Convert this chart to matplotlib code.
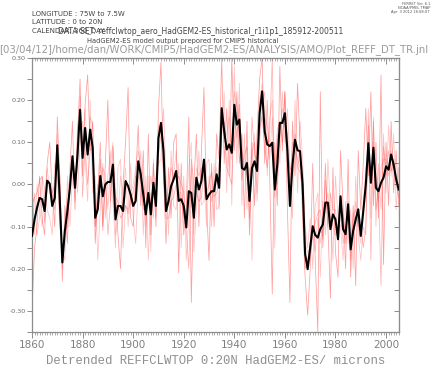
import matplotlib
matplotlib.use('Agg')
import matplotlib.pyplot as plt
from matplotlib.ticker import MultipleLocator, FuncFormatter, FixedLocator
import numpy as np

years = list(range(1860, 2006))

ensemble_mean = [
    -0.122, -0.083, -0.055, -0.032, -0.035, -0.063, 0.009, 0.002, -0.051, -0.032,
    0.093, -0.039, -0.185, -0.110, -0.063, -0.008, 0.067, -0.008, 0.071, 0.177,
    0.063, 0.134, 0.071, 0.130, 0.087, -0.079, -0.059, 0.020, -0.028, 0.000,
    0.006, 0.006, 0.047, -0.083, -0.051, -0.051, -0.063, 0.008, -0.004, -0.024,
    -0.051, -0.039, 0.055, 0.024, -0.024, -0.071, -0.020, -0.071, 0.004, -0.051,
    0.110, 0.146, 0.079, -0.063, -0.039, -0.004, 0.012, 0.032, -0.039, -0.035,
    -0.051, -0.102, -0.016, -0.020, -0.079, 0.016, -0.012, 0.008, 0.059, -0.035,
    -0.024, -0.016, -0.016, 0.024, -0.008, 0.181, 0.126, 0.083, 0.095, 0.075,
    0.189, 0.142, 0.154, 0.039, 0.035, 0.051, -0.039, 0.039, 0.055, 0.032,
    0.169, 0.221, 0.126, 0.095, 0.091, 0.099, -0.012, 0.047, 0.146, 0.146,
    0.169, 0.079, -0.051, 0.047, 0.106, 0.081, 0.079, 0.000, -0.165, -0.201,
    -0.150, -0.099, -0.120, -0.126, -0.106, -0.095, -0.043, -0.043, -0.106, -0.071,
    -0.083, -0.130, -0.028, -0.106, -0.118, -0.047, -0.154, -0.110, -0.083, -0.059,
    -0.122, -0.063, 0.000, 0.098, 0.004, 0.087, -0.008, -0.016, 0.004, 0.016,
    0.043, 0.035, 0.071, 0.047, 0.012, -0.012,
]

member_a = [
    -0.30, -0.15, -0.10, 0.02, -0.08, -0.12, 0.05, 0.10, -0.02, -0.10,
    0.16, 0.02, -0.23, -0.05, -0.14, 0.04, 0.15, -0.06, 0.12, 0.25,
    0.02, 0.19, 0.26, 0.08, 0.15, -0.14, -0.02, 0.10, -0.10, 0.05,
    0.20, -0.04, 0.09, -0.02, -0.12, -0.20, 0.00, 0.10, 0.23, -0.08,
    -0.10, 0.02, 0.14, -0.05, 0.08, -0.15, 0.12, -0.12, 0.05, -0.10,
    0.18, 0.29, 0.02, -0.14, 0.04, -0.08, 0.10, 0.12, -0.21, 0.05,
    -0.12, -0.05, 0.16, -0.28, 0.00, 0.12, -0.10, 0.08, 0.23, -0.05,
    -0.18, 0.05, -0.10, 0.12, 0.06, 0.30, 0.05, 0.18, 0.02, 0.30,
    0.08, 0.22, 0.05, 0.12, -0.08, 0.15, -0.12, 0.10, -0.05, 0.12,
    0.25, 0.30, 0.05, 0.20, 0.02, -0.26, 0.10, -0.05, 0.28, 0.08,
    0.22, -0.06, -0.28, 0.15, 0.02, 0.24, 0.10, -0.08, -0.22, -0.31,
    -0.20, 0.05, -0.18, -0.35, 0.22, -0.15, 0.05, -0.10, -0.27, 0.04,
    -0.16, -0.22, 0.08, -0.05, -0.20, 0.06, -0.22, -0.05, -0.24, 0.08,
    -0.06, 0.05, 0.18, 0.02, 0.22, -0.05, 0.10, -0.08, 0.26, -0.19,
    0.10, -0.05, 0.15, -0.02, 0.08, -0.05,
]

member_b = [
    -0.15, -0.02, -0.12, -0.08, 0.02, -0.01, -0.06, -0.08, -0.12, 0.05,
    0.02, -0.10, -0.15, -0.18, 0.02, -0.10, 0.02, 0.04, -0.02, 0.10,
    0.15, 0.06, -0.04, 0.20, -0.02, 0.02, -0.18, -0.06, 0.05, -0.08,
    0.02, 0.08, -0.04, -0.15, 0.04, 0.06, -0.15, -0.05, -0.06, 0.05,
    -0.08, -0.14, 0.00, 0.08, -0.12, 0.02, -0.18, -0.02, -0.08, 0.02,
    0.05, 0.06, 0.18, 0.02, -0.12, 0.08, -0.05, -0.06, 0.05, -0.15,
    0.02, -0.18, -0.08, 0.04, -0.16, -0.06, 0.08, -0.05, -0.04, 0.05,
    0.06, -0.10, 0.05, -0.06, -0.05, 0.12, 0.22, -0.02, 0.20, -0.05,
    0.28, 0.05, 0.24, -0.05, 0.12, -0.06, 0.04, -0.18, 0.12, -0.04,
    0.10, 0.18, 0.22, 0.02, 0.16, 0.20, -0.15, 0.12, 0.05, 0.22,
    0.10, 0.18, 0.04, -0.08, 0.20, -0.02, 0.15, 0.06, -0.10, -0.15,
    -0.08, -0.20, -0.05, -0.02, -0.22, -0.04, -0.12, 0.06, -0.05, -0.18,
    0.02, -0.08, -0.10, -0.18, -0.04, -0.14, -0.06, -0.20, 0.02, -0.12,
    -0.18, -0.10, -0.12, 0.18, -0.08, 0.16, -0.10, 0.05, -0.06, 0.12,
    -0.02, 0.14, 0.02, 0.12, -0.06, 0.04,
]

member_c = [
    0.02, -0.12, 0.00, -0.06, -0.10, -0.02, 0.04, -0.02, -0.04, -0.06,
    0.12, -0.06, -0.20, -0.10, -0.02, 0.02, 0.06, -0.04, 0.14, 0.16,
    0.10, 0.18, 0.06, 0.16, 0.14, -0.10, 0.00, -0.02, 0.04, 0.02,
    -0.06, 0.05, 0.10, -0.12, -0.08, 0.02, -0.02, 0.04, -0.10, -0.02,
    0.00, 0.04, 0.08, 0.04, 0.02, -0.10, 0.02, -0.16, 0.06, -0.08,
    0.14, 0.12, 0.10, -0.04, 0.00, 0.04, 0.02, 0.08, -0.02, -0.02,
    -0.08, -0.06, 0.04, 0.10, -0.12, 0.04, 0.02, 0.04, 0.02, -0.10,
    0.02, -0.04, 0.00, 0.04, -0.06, 0.16, 0.10, 0.12, 0.16, 0.06,
    0.22, 0.18, 0.12, 0.08, 0.05, 0.02, 0.00, 0.08, 0.10, -0.02,
    0.20, 0.24, 0.16, 0.14, 0.06, 0.16, 0.04, 0.00, 0.12, 0.18,
    0.14, 0.12, 0.00, 0.10, 0.08, 0.06, 0.04, 0.04, -0.14, -0.16,
    -0.18, -0.12, -0.16, -0.08, -0.14, -0.08, -0.06, -0.02, -0.08, -0.10,
    -0.12, -0.10, -0.06, -0.14, -0.10, -0.08, -0.14, -0.12, -0.04, -0.10,
    -0.14, -0.04, 0.04, 0.06, 0.04, 0.10, 0.02, -0.04, 0.04, 0.06,
    0.06, 0.02, 0.08, 0.04, 0.02, 0.00,
]

member_d = [
    -0.05, -0.03, -0.02, 0.01, 0.02, -0.09, 0.01, 0.00, -0.02, 0.00,
    0.07, 0.02, -0.18, -0.11, -0.10, 0.00, 0.05, 0.02, 0.04, 0.21,
    -0.03, 0.09, 0.00, 0.08, 0.09, -0.10, -0.04, 0.06, -0.11, 0.01,
    -0.12, -0.05, 0.05, -0.03, -0.04, -0.08, -0.07, -0.05, -0.07, -0.03,
    -0.02, 0.02, 0.02, 0.01, -0.06, -0.05, -0.04, 0.02, -0.03, -0.04,
    0.07, 0.12, 0.02, -0.08, -0.08, -0.04, -0.03, 0.00, 0.02, 0.00,
    -0.02, -0.11, -0.20, 0.06, 0.00, -0.02, -0.04, -0.03, 0.03, -0.02,
    0.00, 0.03, -0.03, -0.02, 0.01, 0.14, 0.15, 0.04, 0.02, 0.00,
    0.18, 0.11, 0.19, 0.01, 0.07, 0.09, -0.08, 0.16, 0.07, 0.06,
    0.13, 0.16, 0.09, 0.04, 0.12, 0.30, -0.03, 0.13, 0.15, 0.10,
    0.22, 0.08, 0.04, 0.03, 0.12, 0.04, 0.03, -0.02, -0.20, -0.18,
    -0.14, -0.12, -0.09, -0.07, -0.06, -0.13, 0.01, -0.10, -0.02, -0.06,
    -0.06, -0.12, -0.04, -0.07, -0.14, -0.04, -0.18, -0.07, -0.06, -0.10,
    -0.10, -0.15, -0.10, 0.14, -0.18, 0.15, -0.06, -0.01, -0.24, 0.09,
    0.02, 0.08, 0.03, 0.06, 0.00, -0.03,
]

members = [member_a, member_b, member_c, member_d]
member_alpha = [0.38, 0.24, 0.22, 0.3]

x_tick_years = [1860, 1880, 1900, 1920, 1940, 1960, 1980, 2000]

W, H = 435, 373
fig = plt.figure(figsize=(W / 100, H / 100), dpi=100)
ax = fig.add_axes([32 / W, 41 / H, 366.7 / W, 274 / H])

for m, a in zip(members, member_alpha):
    ax.plot(years, m, color='red', lw=0.55, alpha=a, zorder=2)
ax.plot(years, ensemble_mean, color='black', lw=1.5, zorder=3)

axis_col = '#8c8c8c'
ax.set_xlim(1860, 2005)
ax.set_ylim(-0.35, 0.30)
for s in ax.spines.values():
    s.set_color(axis_col)
    s.set_linewidth(0.9)

ax.xaxis.set_major_locator(FixedLocator(x_tick_years))
ax.xaxis.set_minor_locator(MultipleLocator(1))
ax.yaxis.set_major_locator(MultipleLocator(0.1))
ax.yaxis.set_minor_locator(MultipleLocator(0.05))
ax.yaxis.set_major_formatter(FuncFormatter(lambda v, p: '%.2f' % v if abs(v) > 1e-9 else '0.00'))

ax.tick_params(axis='x', which='major', direction='out', length=4, width=0.7,
               color=axis_col, labelsize=7.5, labelcolor='#808080', pad=2, top=False)
ax.tick_params(axis='x', which='minor', direction='out', length=2.2, width=0.5,
               color=axis_col, top=False)
ax.tick_params(axis='y', which='major', direction='out', length=3.5, width=0.7,
               color=axis_col, labelsize=4.6, labelcolor='#6a6a6a', pad=1, right=False)
ax.tick_params(axis='y', which='minor', direction='out', length=3.5, width=0.7,
               color=axis_col, right=False)

sec_top = ax.secondary_xaxis('top')
sec_top.xaxis.set_major_locator(FixedLocator(x_tick_years))
sec_top.xaxis.set_minor_locator(MultipleLocator(1))
sec_top.tick_params(which='major', direction='in', length=4, width=0.7, color=axis_col, labeltop=False)
sec_top.tick_params(which='minor', direction='in', length=2.2, width=0.5, color=axis_col)
sec_top.spines['top'].set_color(axis_col)

sec_right = ax.secondary_yaxis('right')
sec_right.yaxis.set_major_locator(MultipleLocator(0.05))
sec_right.tick_params(which='major', direction='in', length=3.5, width=0.7, color=axis_col, labelright=False)
sec_right.spines['right'].set_color(axis_col)

def ft(x, y, s, **kw):
    fig.text(x / W, 1 - y / H, s, **kw)

hdr = dict(fontsize=5.0, color='#444444', va='center')
ft(32, 14, 'LONGITUDE : 75W to 7.5W', ha='left', **hdr)
ft(32, 22.5, 'LATITUDE : 0 to 20N', ha='left', **hdr)
ft(32, 31, 'CALENDAR: 360_DAY', ha='left', **hdr)
ft(58, 31, 'DATA SET: reffclwtop_aero_HadGEM2-ES_historical_r1i1p1_185912-200511',
   ha='left', fontsize=5.5, color='#444444', va='center')
ft(183, 41.5, 'HadGEM2-ES model output prepored for CMIP5 historical',
   ha='center', fontsize=4.9, color='#444444', va='center')
ft(-1, 50, '[03/04/12]/home/dan/WORK/CMIP5/HadGEM2-ES/ANALYSIS/AMO/Plot_REFF_DT_TR.jnl',
   ha='left', fontsize=7.3, color='#9a9a9a', va='center')
small = dict(fontsize=2.6, color='#555555', ha='right', va='center')
ft(430, 4, 'FERRET Ver. 6.1', **small)
ft(430, 8, 'NOAA/PMEL TMAP', **small)
ft(430, 12, 'Apr  3 2012 18:08:07', **small)

ft(216, 361, 'Detrended REFFCLWTOP 0:20N HadGEM2-ES/ microns', ha='center', va='center',
   fontsize=8.8, color='#8e8e8e', family='Liberation Mono')

fig.savefig('out.png', dpi=100)
